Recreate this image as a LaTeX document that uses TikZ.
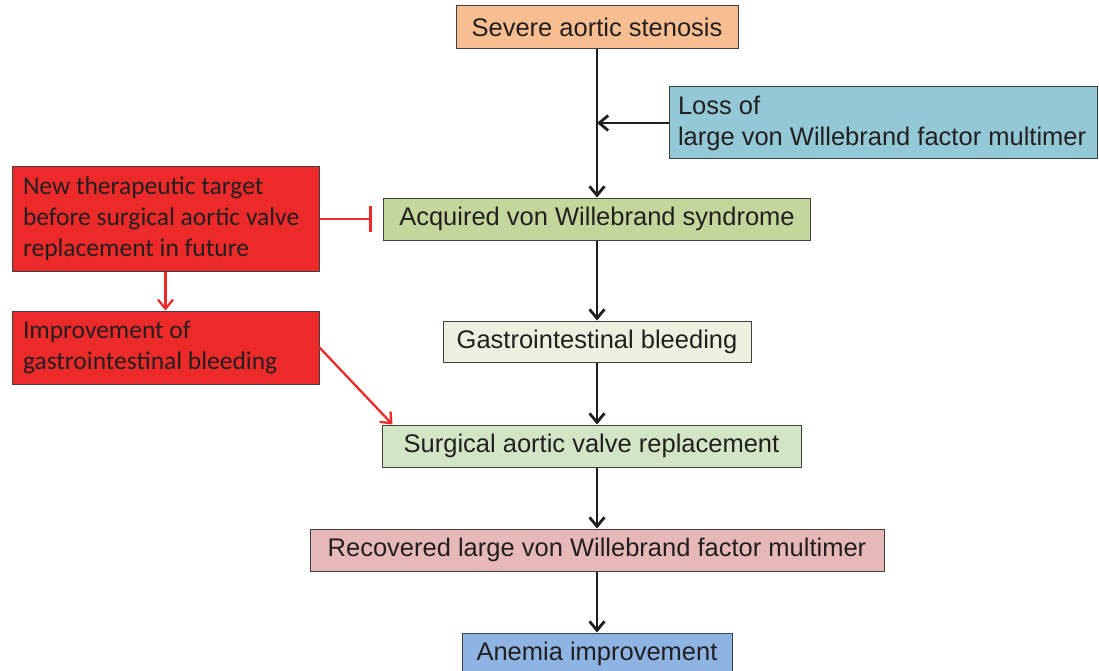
\documentclass[tikz,border=0pt]{standalone}
\usepackage{fontspec}
\setmainfont{Liberation Sans}
\newfontfamily\calibri{Carlito}
\usetikzlibrary{arrows.meta}
\definecolor{txt}{HTML}{231F20}
\definecolor{boxline}{HTML}{404040}
\definecolor{stenosis}{HTML}{F6BE91}
\definecolor{loss}{HTML}{93C8D6}
\definecolor{acquired}{HTML}{C3D69B}
\definecolor{bleed}{HTML}{EBF1DE}
\definecolor{surgery}{HTML}{D2E6C6}
\definecolor{recover}{HTML}{E6B9B8}
\definecolor{anemia}{HTML}{8EB4E3}
\definecolor{boxred}{HTML}{EC2A2A}
\tikzstyle{box}=[rectangle,draw=boxline,line width=1pt,minimum height=42pt,inner sep=0pt,text=txt,font=\fontsize{25.5}{31}\selectfont]
\tikzstyle{redbox}=[box,fill=boxred,align=flush left,inner xsep=11pt,text width=285pt,font=\calibri\fontsize{25.5}{31}\selectfont]
\tikzstyle{arrow}=[line width=2.8pt,txt,-{Straight Barb[length=9pt,width=15pt]}]
\tikzstyle{redarrow}=[arrow,line width=2.3pt,boxred]
\tikzstyle{blocker}=[line width=2.8pt,boxred,-{Bar[width=26pt]}]

\begin{document}
\begin{tikzpicture}[x=1pt,y=-1pt]
\useasboundingbox (0,0) rectangle (1099,671);

% main chain
\node[box,fill=stenosis,minimum width=282pt,minimum height=43pt] (sas) at (597,27.5) {Severe aortic stenosis};
\node[box,fill=acquired,minimum width=427pt] (avws) at (597,219) {Acquired von Willebrand syndrome};
\node[box,fill=bleed,minimum width=308pt,minimum height=41pt] (gib) at (597,341.5) {Gastrointestinal bleeding};
\node[box,fill=surgery,minimum width=419pt] (savr) at (591.5,446) {Surgical aortic valve replacement};
\node[box,fill=recover,minimum width=574pt] (rlvwf) at (597,550) {Recovered large von Willebrand factor multimer};
\node[box,fill=anemia,minimum width=270pt] (anem) at (597,654) {Anemia improvement};

% side boxes
\node[box,fill=loss,align=flush left,inner xsep=9pt,text width=410pt,minimum height=72pt] (loss) at (883,123) {Loss of\\large von Willebrand factor multimer};
\node[redbox,minimum height=104pt] (newt) at (165.5,219) {New therapeutic target\\before surgical aortic valve\\replacement in future};
\node[redbox,minimum height=73pt] (impr) at (165.5,347.5) {Improvement of\\gastrointestinal bleeding};

\draw[arrow] (sas.south) -- (sas.south |- avws.north);
\draw[arrow] (loss.west) -- (loss.west -| sas.south);
\draw[arrow] (avws.south) -- (avws.south |- gib.north);
\draw[arrow] (gib.south) -- (gib.south |- savr.north);
\draw[arrow] (gib.south |- savr.south) -- (rlvwf.north);
\draw[arrow] (rlvwf.south) -- (anem.north);

\draw[blocker,shorten >=11pt] (newt.east) -- (avws.west);
\draw[redarrow] (newt.south) -- (impr.north);
\draw[redarrow] (impr.east) -- ([xshift=11pt]savr.north west);
\end{tikzpicture}
\end{document}
